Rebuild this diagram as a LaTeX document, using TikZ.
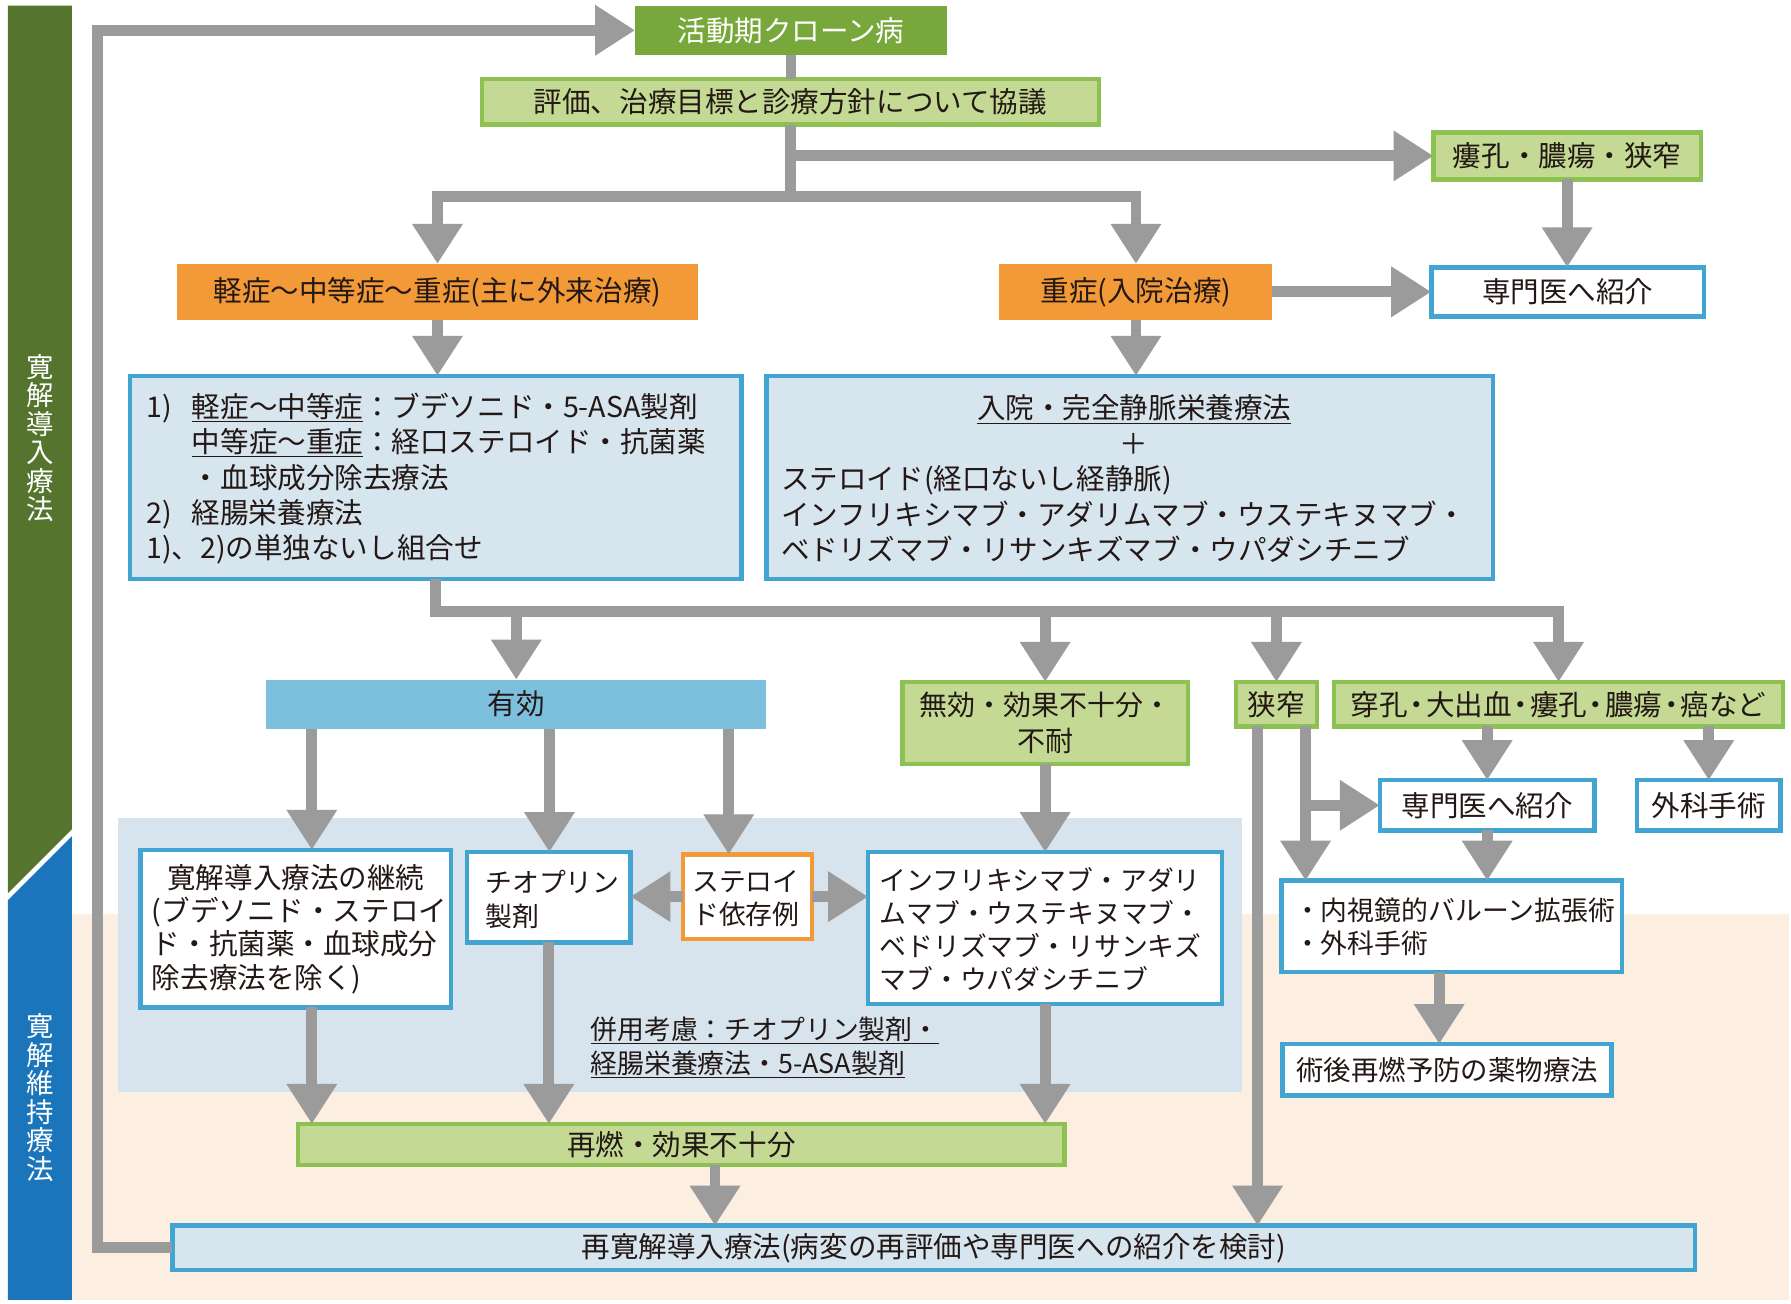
\documentclass[tikz,border=0pt]{standalone}
\usepackage{fontspec}
\setmainfont{Noto Sans CJK JP}
\usetikzlibrary{arrows.meta}
\definecolor{txt}{HTML}{231815}
\definecolor{dgreen}{HTML}{55752F}
\definecolor{bblue}{HTML}{1B75BB}
\definecolor{kgreen}{HTML}{78A83B}
\definecolor{lgreen}{HTML}{C4DA94}
\definecolor{gborder}{HTML}{8DC152}
\definecolor{orng}{HTML}{F39A38}
\definecolor{bborder}{HTML}{42A5D1}
\definecolor{lblue}{HTML}{D7E5EF}
\definecolor{yukoc}{HTML}{7CC0DE}
\definecolor{lgray}{HTML}{9B9B9B}
\definecolor{peach}{HTML}{FDEEE2}
\definecolor{regblue}{HTML}{D7E4EE}
\newcommand\fs[2]{\fontsize{#1}{#2}\selectfont}
\newcommand\mydot{\makebox[16pt]{・}}
\tikzset{
  txtn/.style={inner sep=0pt, outer sep=0pt, text=txt, font=\fs{25}{31}},
  sz/.style 2 args={minimum width=#1pt, minimum height=#2pt},
  gbox/.style={txtn, draw=gborder, line width=4pt, fill=lgreen},
  bbox/.style={txtn, draw=bborder, line width=4pt, fill=white},
  lbbox/.style={txtn, draw=bborder, line width=4pt, fill=lblue},
  obox/.style={txtn, fill=orng},
  conn/.style={draw=lgray, line width=9.5pt},
  arr/.style={conn, -{Triangle[length=35pt,width=42pt]}},
}
\begin{document}
\begin{tikzpicture}[x=1pt,y=-1pt]
\useasboundingbox (0,0) rectangle (1568,1141);
% backgrounds
\fill[peach] (63,800) rectangle (1566,1138);
\fill[regblue] (103,716) rectangle (1087,956);
\fill[dgreen] (7,5) -- (63,5) -- (63,726) -- (7,782) -- cycle;
\fill[bblue] (7,788) -- (63,732) -- (63,1138) -- (7,1138) -- cycle;
\node[txtn, text=white, align=center, font=\fs{24}{25}] (vt1) at (35,383.5) {寛\\解\\導\\入\\療\\法};
\node[txtn, text=white, align=center, font=\fs{24}{25}] (vt2) at (35,961) {寛\\解\\維\\持\\療\\法};
% nodes
\node[txtn, fill=kgreen, text=white, sz={273}{43}] (katsudo) at (692.5,26.5) {活動期クローン病};
\node[gbox, sz={540}{40}] (hyoka) at (692,89) {評価、治療目標と診療方針について協議};
\node[gbox, sz={234}{41}] (roko) at (1372,136.5) {瘻孔・膿瘍・狭窄};
\node[obox, sz={456}{49}] (keisho) at (383,255.5) {軽症～中等症～重症(主に外来治療)};
\node[obox, sz={239}{49}] (jusho) at (994.5,255.5) {重症(入院治療)};
\node[bbox, sz={239}{43}] (senmon1) at (1372.5,255.5) {専門医へ紹介};
\node[lbbox, sz={535}{178}] (box1) at (381.5,418) {};
\node[lbbox, sz={636}{178}] (box2) at (989,418) {};
\node[txtn, fill=yukoc, sz={438}{43}] (yuko) at (452,616.5) {有効};
\node[gbox, sz={250}{72}, align=center, font=\fs{24.5}{31}] (muko) at (915,633) {無効・効果不十分・\\不耐};
\node[gbox, sz={71}{39}] (kyosaku) at (1117.5,616.5) {狭窄};
\node[gbox, sz={393}{39}] (senko) at (1364.5,616.5) {穿孔\mydot 大出血\mydot 瘻孔\mydot 膿瘍\mydot 癌など};
\node[bbox, sz={272}{138}] (keizoku) at (259,813) {};
\node[bbox, sz={143}{79}] (thio) at (480.5,785.5) {};
\node[bbox, draw=orng, sz={113}{74}] (steroid) at (654.5,785) {};
\node[bbox, sz={310}{133}] (infli) at (915,812.5) {};
\node[gbox, sz={671}{36}] (sainen) at (596.5,1002) {再燃・効果不十分};
\node[lbbox, sz={1333}{39}] (saikan) at (817.5,1092.5) {再寛解導入療法(病変の再評価や専門医への紹介を検討)};
\node[bbox, sz={188}{44}] (senmon2) at (1302,705) {専門医へ紹介};
\node[bbox, sz={126}{44}] (geka) at (1496,705) {外科手術};
\node[bbox, sz={298}{80}] (naishi) at (1271,811) {};
\node[bbox, sz={288}{45}, font=\fs{24}{30}] (jutsugo) at (1267,936.5) {術後再燃予防の薬物療法};
% texts in multi-line boxes
\node[txtn, anchor=west, align=left] (box1t) at (128,419) {\makebox[40pt][l]{1)}\underline{軽症～中等症}：ブデソニド・5-ASA製剤\\
\hspace*{40pt}\underline{中等症～重症}：経口ステロイド・抗菌薬\\
\hspace*{40pt}・血球成分除去療法\\
\makebox[40pt][l]{2)}経腸栄養療法\\
1)、2)の単独ないし組合せ};
\node[txtn, anchor=west, align=left] (box2t) at (684,419) {\makebox[618pt]{\underline{入院・完全静脈栄養療法}}\\
\makebox[618pt]{＋}\\
ステロイド(経口ないし経静脈)\\
インフリキシマブ・アダリムマブ・ウステキヌマブ・\\
ベドリズマブ・リサンキズマブ・ウパダシチニブ};
\node[txtn, anchor=west, align=left, font=\fs{25}{29}] (keizokut) at (133,813.5) {\makebox[252pt]{寛解導入療法の継続}\\(ブデソニド・ステロイ\\ド・抗菌薬・血球成分\\除去療法を除く)};
\node[txtn, anchor=west, align=left, font=\fs{23.5}{29}] (thiot) at (425,787.5) {チオプリン\\製剤};
\node[txtn, anchor=west, align=left, font=\fs{23.5}{29}] (steroidt) at (606,786.5) {ステロイ\\ド依存例};
\node[txtn, anchor=west, align=left, font=\fs{23.5}{29}] (inflit) at (770,813.5) {インフリキシマブ・アダリ\\ムマブ・ウステキヌマブ・\\ベドリズマブ・リサンキズ\\マブ・ウパダシチニブ};
\node[txtn, anchor=west, align=left, font=\fs{23.5}{29}] (naishit) at (1133,811.5) {・内視鏡的バルーン拡張術\\・外科手術};
\node[txtn, anchor=west, align=left, font=\fs{23.5}{30}] (heiyo) at (517,917) {\underline{併用考慮：チオプリン製剤・}\\\underline{経腸栄養療法・5-ASA製剤}};
% coordinates
\coordinate (j1) at (692,172);
\coordinate (j2e) at (1364.5,535);
\coordinate (lp) at (85,26.5);
\coordinate (a1) at ([xshift=-179pt]yuko.south);
\coordinate (a2) at ([xshift=29pt]yuko.south);
\coordinate (a3) at ([xshift=186pt]yuko.south);
\coordinate (k1) at ([xshift=-16.5pt]kyosaku.south);
\coordinate (k2) at ([xshift=25.5pt]kyosaku.south);
\coordinate (r1) at ([xshift=29.5pt]sainen.south);
\coordinate (n1) at ([xshift=-11pt]naishi.south);
% connectors
\draw[conn] (katsudo.south) -- (katsudo.south |- hyoka.north);
\draw[arr] (hyoka.south) -- (j1) -| (keisho.north);
\draw[arr] (j1) -| (jusho.north);
\draw[arr] (hyoka.south |- roko.west) -- (roko.west);
\draw[arr] (jusho.east) -- (senmon1.west);
\draw[arr] (roko.south) -- (roko.south |- senmon1.north);
\draw[arr] (keisho.south) -- (keisho.south |- box1.north);
\draw[arr] (jusho.south) -- (jusho.south |- box2.north);
\draw[arr] (box1.south) |- (j2e) -- (senko.north);
\draw[arr] (yuko.north |- j2e) -- (yuko.north);
\draw[arr] (muko.north |- j2e) -- (muko.north);
\draw[arr] (kyosaku.north |- j2e) -- (kyosaku.north);
\draw[arr] (a1) -- (a1 |- keizoku.north);
\draw[arr] (a2) -- (a2 |- thio.north);
\draw[arr] (a3) -- (a3 |- steroid.north);
\draw[arr] (steroid.west) -- (steroid.west -| thio.east);
\draw[arr] (steroid.east) -- (steroid.east -| infli.west);
\draw[arr] (muko.south) -- (muko.south |- infli.north);
\draw[arr] (a1 |- keizoku.south) -- (a1 |- sainen.north);
\draw[arr] (thio.south) -- (thio.south |- sainen.north);
\draw[arr] (infli.south) -- (infli.south |- sainen.north);
\draw[arr] (r1) -- (r1 |- saikan.north);
\draw[arr] (saikan.west) -| (lp) -- (katsudo.west);
\draw[arr] (k1) -- (k1 |- saikan.north);
\draw[arr] (k2) -- (k2 |- naishi.north);
\draw[arr] (k2 |- senmon2.west) -- (senmon2.west);
\draw[arr] (senmon2.north |- senko.south) -- (senmon2.north);
\draw[arr] (geka.north |- senko.south) -- (geka.north);
\draw[arr] (senmon2.south) -- (senmon2.south |- naishi.north);
\draw[arr] (n1) -- (n1 |- jutsugo.north);
\end{tikzpicture}
\end{document}
